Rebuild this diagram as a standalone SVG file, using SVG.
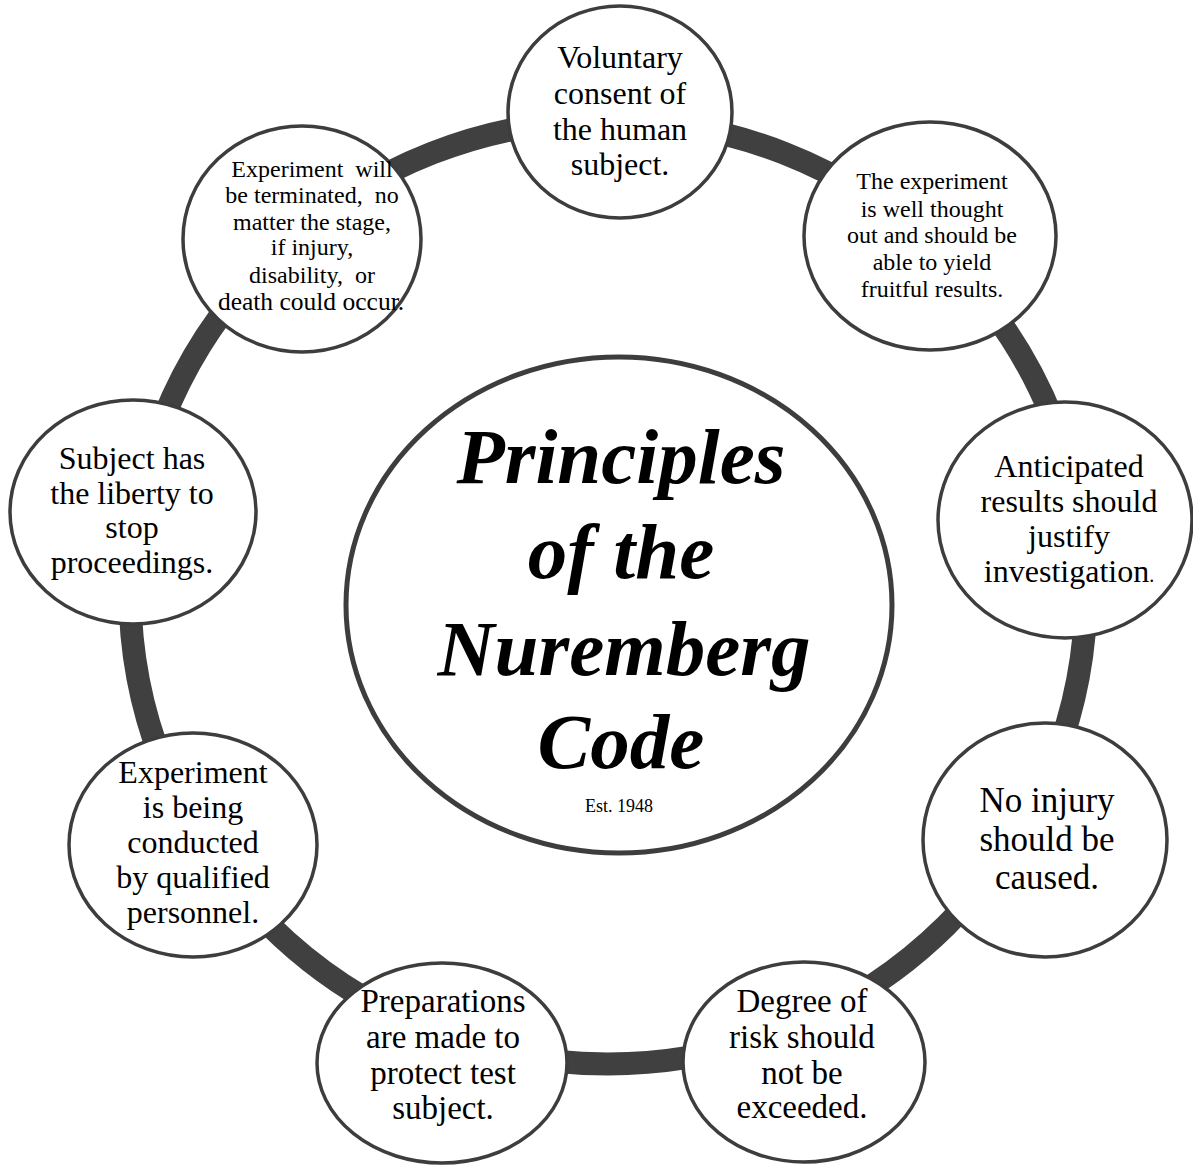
<svg xmlns="http://www.w3.org/2000/svg" width="1193" height="1166" viewBox="0 0 1193 1166">
  <style>
    .node { fill: #ffffff; stroke: #3d3d3d; stroke-width: 3.5; }
    .hub { fill: #ffffff; stroke: #3d3d3d; stroke-width: 5; }
    .ring { fill: none; stroke: #404040; stroke-width: 23; }
    text { font-family: "Liberation Serif", "Times New Roman", serif; fill: #000000; text-anchor: middle; }
    .t32 { font-size: 32px; }
    .t24 { font-size: 24px; }
    .title { font-size: 79px; font-weight: bold; font-style: italic; }
  </style>
  <rect width="1193" height="1166" fill="#ffffff"/>

  <!-- connector ring linking the principles -->
  <g id="connectors">
    <ellipse class="ring" cx="608" cy="592" rx="478" ry="472"/>
  </g>

  <!-- central title -->
  <g id="hub">
    <ellipse class="hub" cx="619" cy="605" rx="273" ry="248"/>
    <text class="title" x="621" y="483">Principles</text>
    <text class="title" x="621" y="578">of the</text>
    <text class="title" x="624" y="675">Nuremberg</text>
    <text class="title" x="621" y="768">Code</text>
    <text x="619" y="812" style="font-size:18px">Est. 1948</text>
  </g>

  <g id="node-consent">
    <ellipse class="node" cx="620" cy="112" rx="112" ry="106"/>
    <text class="t32" x="620" y="68">Voluntary</text>
    <text class="t32" x="620" y="104">consent of</text>
    <text class="t32" x="620" y="140">the human</text>
    <text class="t32" x="620" y="175">subject.</text>
  </g>

  <g id="node-design">
    <ellipse class="node" cx="930" cy="236" rx="126" ry="114"/>
    <text class="t24" x="932" y="189">The experiment</text>
    <text class="t24" x="932" y="217">is well thought</text>
    <text class="t24" x="932" y="243">out and should be</text>
    <text class="t24" x="932" y="270">able to yield</text>
    <text class="t24" x="932" y="297">fruitful results.</text>
  </g>

  <g id="node-justify">
    <ellipse class="node" cx="1065" cy="520" rx="127" ry="118"/>
    <text class="t32" x="1069" y="477">Anticipated</text>
    <text class="t32" x="1069" y="512">results should</text>
    <text class="t32" x="1069" y="547">justify</text>
    <text class="t32" x="1069" y="582">investigation<tspan style="font-size:20px">.</tspan></text>
  </g>

  <g id="node-no-injury">
    <ellipse class="node" cx="1045" cy="840" rx="122" ry="117"/>
    <text x="1047" y="812" style="font-size:35px">No injury</text>
    <text x="1047" y="851" style="font-size:35px">should be</text>
    <text x="1047" y="889" style="font-size:35px">caused.</text>
  </g>

  <g id="node-risk">
    <ellipse class="node" cx="804" cy="1062" rx="121" ry="100"/>
    <text x="802" y="1012" style="font-size:33px">Degree of</text>
    <text x="802" y="1048" style="font-size:33px">risk should</text>
    <text x="802" y="1084" style="font-size:33px">not be</text>
    <text x="802" y="1118" style="font-size:33px">exceeded.</text>
  </g>

  <g id="node-preparations">
    <ellipse class="node" cx="442" cy="1063" rx="125" ry="100"/>
    <text x="443" y="1012" style="font-size:33px">Preparations</text>
    <text x="443" y="1048" style="font-size:33px">are made to</text>
    <text x="443" y="1084" style="font-size:33px">protect test</text>
    <text x="443" y="1119" style="font-size:33px">subject.</text>
  </g>

  <g id="node-qualified">
    <ellipse class="node" cx="193" cy="845" rx="124" ry="112"/>
    <text class="t32" x="193" y="783">Experiment</text>
    <text class="t32" x="193" y="818">is being</text>
    <text class="t32" x="193" y="853">conducted</text>
    <text class="t32" x="193" y="888">by qualified</text>
    <text class="t32" x="193" y="923">personnel.</text>
  </g>

  <g id="node-liberty">
    <ellipse class="node" cx="133" cy="512" rx="123" ry="112"/>
    <text class="t32" x="132" y="469">Subject has</text>
    <text class="t32" x="132" y="504">the liberty to</text>
    <text class="t32" x="132" y="538">stop</text>
    <text class="t32" x="132" y="573">proceedings.</text>
  </g>

  <g id="node-terminate">
    <ellipse class="node" cx="302" cy="239" rx="119" ry="113"/>
    <text class="t24" x="312" y="177" xml:space="preserve">Experiment  will</text>
    <text class="t24" x="312" y="203" xml:space="preserve">be terminated,  no</text>
    <text class="t24" x="312" y="230">matter the stage,</text>
    <text class="t24" x="312" y="255">if injury,</text>
    <text class="t24" x="312" y="283" xml:space="preserve">disability,  or</text>
    <text x="311" y="310" style="font-size:25.5px">death could occur.</text>
  </g>
</svg>
